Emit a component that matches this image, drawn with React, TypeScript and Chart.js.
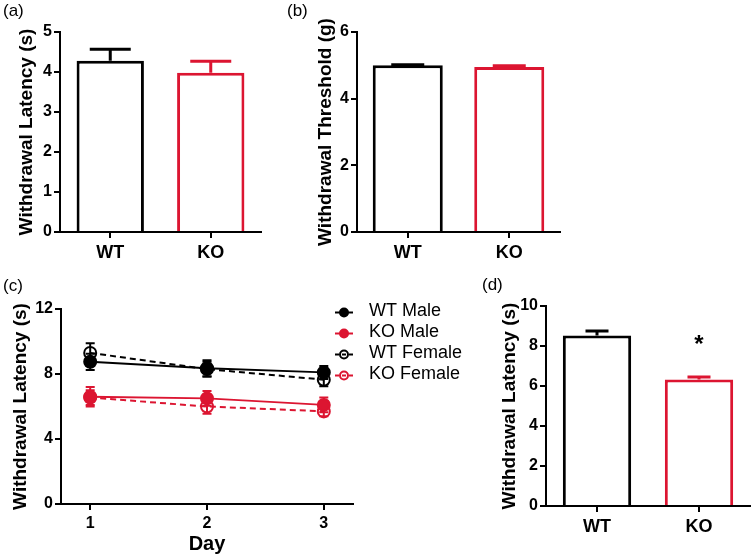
import React, { useEffect, useRef } from "react";
import { Chart, registerables } from "chart.js";

Chart.register(...registerables);

// ---------------- data ----------------
const groups = ["WT", "KO"];

// (a) withdrawal latency (s)
const latencyMeans = [4.28, 3.98];
const latencyErrs = [0.29, 0.29];

// (b) withdrawal threshold (g)
const thresholdMeans = [5.0, 4.95];
const thresholdErrs = [0.02, 0.04];

// (c) latency by day and sex
const days = [1, 2, 3];
const wtMale = [8.75, 8.35, 8.1];
const wtMaleErr = [0.5, 0.5, 0.4];
const koMale = [6.6, 6.5, 6.1];
const koMaleErr = [0.6, 0.45, 0.45];
const wtFemale = [9.3, 8.3, 7.65];
const wtFemaleErr = [0.6, 0.45, 0.4];
const koFemale = [6.55, 6.0, 5.7];
const koFemaleErr = [0.45, 0.45, 0.3];
const seriesNames = ["WT Male", "KO Male", "WT Female", "KO Female"];

// (d) withdrawal latency (s)
const dMeans = [8.53, 6.33];
const dErrs = [0.22, 0.12];
const dMarks = ["", "*"];
const dMarkLevel = 8.05;

// ---------------- style ----------------
const W = 751;
const H = 560;
const FONT = "'Liberation Sans', Arial, Helvetica, sans-serif";
const BLACK = "#000000";
const RED = "#dc1531";
const Y_TITLE_SIZE = 19;
const Y_TITLE_LH = Y_TITLE_SIZE * 1.2;
const TICK_SIZE = 16;

type Box = { left: number; right: number; top: number; bottom: number };

function errorBarPlugin(errors: number[][], colors: string[], capW: number, lw: number) {
  return {
    id: "lineErrorBars",
    beforeDatasetsDraw(chart: any) {
      const ctx = chart.ctx;
      const y = chart.scales.y;
      ctx.save();
      chart.data.datasets.forEach((ds: any, i: number) => {
        const meta = chart.getDatasetMeta(i);
        meta.data.forEach((el: any, j: number) => {
          const v = ds.data[j].y;
          const e = errors[i][j];
          const px = el.x;
          const top = y.getPixelForValue(v + e);
          const bot = y.getPixelForValue(v - e);
          ctx.strokeStyle = colors[i];
          ctx.lineWidth = lw;
          ctx.beginPath();
          ctx.moveTo(px, bot);
          ctx.lineTo(px, top);
          ctx.moveTo(px - capW / 2, top);
          ctx.lineTo(px + capW / 2, top);
          ctx.moveTo(px - capW / 2, bot);
          ctx.lineTo(px + capW / 2, bot);
          ctx.stroke();
        });
      });
      ctx.restore();
    },
  };
}

function barErrorPlugin(means: number[], errs: number[], capW: number, lw: number) {
  return {
    id: "barErrors",
    afterDatasetsDraw(chart: any) {
      const ctx = chart.ctx;
      const y = chart.scales.y;
      const meta = chart.getDatasetMeta(0);
      const colors = [BLACK, RED];
      ctx.save();
      meta.data.forEach((el: any, j: number) => {
        const top = y.getPixelForValue(means[j] + errs[j]);
        const bot = y.getPixelForValue(means[j]);
        ctx.strokeStyle = colors[j];
        ctx.lineWidth = lw;
        ctx.beginPath();
        ctx.moveTo(el.x, bot);
        ctx.lineTo(el.x, top);
        ctx.moveTo(el.x - capW / 2, top);
        ctx.lineTo(el.x + capW / 2, top);
        ctx.stroke();
      });
      ctx.restore();
    },
  };
}

function panelLabelPlugin(text: string, x: number, y: number) {
  return {
    id: "panelLabel",
    afterDraw(chart: any) {
      const ctx = chart.ctx;
      ctx.save();
      ctx.fillStyle = BLACK;
      ctx.font = `17px ${FONT}`;
      ctx.textAlign = "left";
      ctx.textBaseline = "alphabetic";
      ctx.fillText(text, x, y);
      ctx.restore();
    },
  };
}

function layoutFor(box: Box, yTitleX: number, xAxisH: number) {
  const padLeft = yTitleX - Y_TITLE_LH / 2;
  return {
    padding: {
      left: padLeft,
      top: box.top,
      right: W - box.right,
      bottom: H - box.bottom - xAxisH,
    },
    yWidth: box.left - padLeft,
  };
}

const tickGrid = {
  display: true,
  drawOnChartArea: false,
  drawTicks: true,
  tickLength: 6,
  color: BLACK,
  lineWidth: 2,
};

function yAxis(min: number, max: number, step: number, title: string, width: number) {
  return {
    type: "linear",
    min,
    max,
    ticks: {
      stepSize: step,
      color: BLACK,
      padding: 2,
      font: { family: FONT, size: TICK_SIZE, weight: "bold" },
    },
    grid: tickGrid,
    border: { display: true, color: BLACK, width: 2 },
    title: {
      display: true,
      text: title,
      color: BLACK,
      padding: 0,
      font: { family: FONT, size: Y_TITLE_SIZE, weight: "bold", lineHeight: 1.2 },
    },
    afterFit: (s: any) => {
      s.width = width;
    },
  };
}

function makeBar(
  means: number[],
  errs: number[],
  yMin: number,
  yMax: number,
  yStep: number,
  yTitle: string,
  box: Box,
  yTitleX: number,
  capW: number,
  barPct: number,
  label: [string, number, number],
  extra: any[] = []
) {
  const xAxisH = 40;
  const lay = layoutFor(box, yTitleX, xAxisH);
  return {
    type: "bar",
    data: {
      labels: groups,
      datasets: [
        {
          data: means,
          backgroundColor: "#ffffff",
          borderColor: [BLACK, RED],
          borderWidth: 3,
          borderSkipped: "start",
          barPercentage: barPct,
          categoryPercentage: 1,
        },
      ],
    },
    options: {
      animation: false,
      responsive: false,
      devicePixelRatio: 1,
      layout: { padding: lay.padding },
      plugins: { legend: { display: false }, tooltip: { enabled: false }, title: { display: false } },
      scales: {
        x: {
          type: "category",
          offset: true,
          ticks: {
            color: BLACK,
            padding: 4,
            font: { family: FONT, size: 18, weight: "bold" },
          },
          grid: { ...tickGrid, offset: false },
          border: { display: true, color: BLACK, width: 2 },
          afterFit: (s: any) => {
            s.height = xAxisH;
          },
        },
        y: yAxis(yMin, yMax, yStep, yTitle, lay.yWidth),
      },
    },
    plugins: [barErrorPlugin(means, errs, capW, 3), panelLabelPlugin(label[0], label[1], label[2]), ...extra],
  };
}

const makeA = () =>
  makeBar(latencyMeans, latencyErrs, 0, 5, 1, "Withdrawal Latency (s)",
    { left: 60, right: 261, top: 32, bottom: 232 }, 27, 41, 0.67, ["(a)", 3, 16]);

const makeB = () =>
  makeBar(thresholdMeans, thresholdErrs, 0, 6, 2, "Withdrawal Threshold (g)",
    { left: 357, right: 560, top: 32, bottom: 232 }, 326, 33, 0.69, ["(b)", 287, 16]);

const starPlugin = {
  id: "signif",
  afterDatasetsDraw(chart: any) {
    const ctx = chart.ctx;
    const meta = chart.getDatasetMeta(0);
    const y = chart.scales.y;
    ctx.save();
    ctx.fillStyle = BLACK;
    ctx.font = `bold 24px ${FONT}`;
    ctx.textAlign = "center";
    ctx.textBaseline = "middle";
    meta.data.forEach((el: any, j: number) => {
      if (dMarks[j]) ctx.fillText(dMarks[j], el.x, y.getPixelForValue(dMarkLevel));
    });
    ctx.restore();
  },
};

const makeD = () =>
  makeBar(dMeans, dErrs, 0, 10, 2, "Withdrawal Latency (s)",
    { left: 546, right: 750, top: 306, bottom: 506 }, 510, 23, 0.67, ["(d)", 482, 290], [starPlugin]);

// ---------------- panel (c) ----------------
const lineSeries = [
  { name: seriesNames[0], vals: wtMale, errs: wtMaleErr, color: BLACK, dashed: false, filled: true },
  { name: seriesNames[1], vals: koMale, errs: koMaleErr, color: RED, dashed: false, filled: true },
  { name: seriesNames[2], vals: wtFemale, errs: wtFemaleErr, color: BLACK, dashed: true, filled: false },
  { name: seriesNames[3], vals: koFemale, errs: koFemaleErr, color: RED, dashed: true, filled: false },
];

const legendPlugin = {
  id: "customLegend",
  afterDraw(chart: any) {
    const ctx = chart.ctx;
    const x0 = 335;
    const y0 = 311;
    const row = 21;
    ctx.save();
    lineSeries.forEach((s, i) => {
      const cy = y0 + i * row;
      const ly = cy + 1.5;
      ctx.strokeStyle = s.color;
      ctx.lineWidth = 2;
      ctx.setLineDash(s.dashed ? [4, 3] : []);
      ctx.beginPath();
      ctx.moveTo(x0, ly);
      ctx.lineTo(x0 + 18, ly);
      ctx.stroke();
      ctx.setLineDash([]);
      ctx.beginPath();
      ctx.arc(x0 + 9, ly, 4, 0, Math.PI * 2);
      if (s.filled) {
        ctx.fillStyle = s.color;
        ctx.fill();
      }
      ctx.stroke();
      ctx.fillStyle = BLACK;
      ctx.font = `18px ${FONT}`;
      ctx.textAlign = "left";
      ctx.textBaseline = "middle";
      ctx.fillText(s.name, x0 + 34, cy);
    });
    ctx.restore();
  },
};

const makeC = () => {
  const box = { left: 61, right: 353, top: 309, bottom: 504 };
  const xAxisH = 54;
  const lay = layoutFor(box, 21, xAxisH);
  return {
    type: "line",
    data: {
      datasets: lineSeries.map((s) => ({
        label: s.name,
        data: days.map((d, i) => ({ x: d, y: s.vals[i] })),
        borderColor: s.color,
        borderWidth: 2,
        borderDash: s.dashed ? [6, 4] : [],
        pointRadius: 6,
        pointBorderWidth: 2,
        pointBackgroundColor: s.filled ? s.color : "rgba(255,255,255,0)",
        pointBorderColor: s.color,
        tension: 0,
        fill: false,
      })),
    },
    options: {
      animation: false,
      responsive: false,
      devicePixelRatio: 1,
      layout: { padding: lay.padding },
      plugins: { legend: { display: false }, tooltip: { enabled: false }, title: { display: false } },
      scales: {
        x: {
          type: "linear",
          min: 0.75,
          max: 3.25,
          afterBuildTicks: (s: any) => {
            s.ticks = days.map((v) => ({ value: v }));
          },
          ticks: {
            color: BLACK,
            padding: 4,
            font: { family: FONT, size: TICK_SIZE, weight: "bold" },
          },
          grid: tickGrid,
          border: { display: true, color: BLACK, width: 2 },
          title: {
            display: true,
            text: "Day",
            color: BLACK,
            padding: { top: 0, bottom: 2 },
            font: { family: FONT, size: 20, weight: "bold", lineHeight: 1.2 },
          },
          afterFit: (s: any) => {
            s.height = xAxisH;
          },
        },
        y: yAxis(0, 12, 4, "Withdrawal Latency (s)", lay.yWidth),
      },
    },
    plugins: [
      errorBarPlugin(lineSeries.map((s) => s.errs), lineSeries.map((s) => s.color), 9, 2),
      legendPlugin,
      panelLabelPlugin("(c)", 3, 291),
    ],
  };
};

function ChartCanvas({ make }: { make: () => any }) {
  const ref = useRef<HTMLCanvasElement>(null);
  useEffect(() => {
    const chart = new Chart(ref.current as HTMLCanvasElement, make());
    return () => chart.destroy();
  }, []);
  return (
    <canvas
      ref={ref}
      width={W}
      height={H}
      style={{ position: "absolute", left: 0, top: 0, width: W, height: H }}
    />
  );
}

export default function App() {
  return (
    <div style={{ position: "absolute", left: 0, top: 0, width: W, height: H, background: "#ffffff" }}>
      <ChartCanvas make={makeA} />
      <ChartCanvas make={makeB} />
      <ChartCanvas make={makeC} />
      <ChartCanvas make={makeD} />
    </div>
  );
}
